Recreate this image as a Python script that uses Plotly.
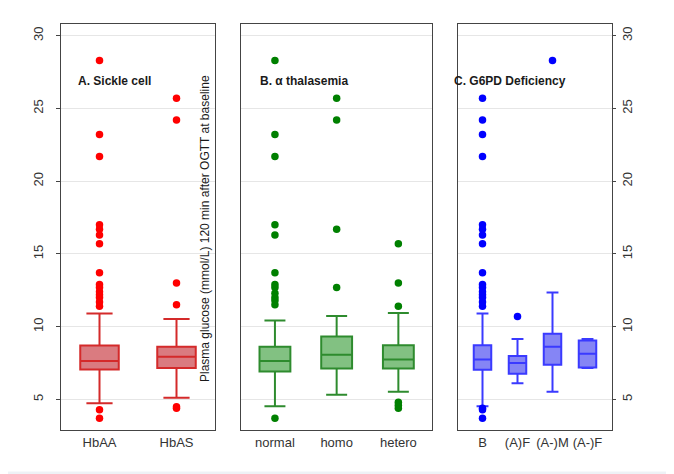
import plotly.graph_objects as go

# ---------------- data ----------------
cats_a = ["HbAA", "HbAS"]
q1_a = [7.06, 7.16]
med_a = [7.64, 7.93]
q3_a = [8.71, 8.62]
lo_a = [4.73, 5.12]
hi_a = [10.91, 10.52]
out_a = [
    [28.3, 23.2, 21.7, 17.0, 16.7, 16.3, 15.7, 13.7, 12.9, 12.7, 12.4, 12.2, 12.0, 11.7, 11.4, 4.3, 3.7],
    [25.7, 24.2, 13.0, 11.5, 4.5, 4.4],
]

cats_b = ["normal", "homo", "hetero"]
q1_b = [6.92, 7.13, 7.13]
med_b = [7.64, 8.07, 7.75]
q3_b = [8.62, 9.33, 8.73]
lo_b = [4.54, 5.32, 5.53]
hi_b = [10.43, 10.73, 10.94]
out_b = [
    [28.3, 23.2, 21.7, 17.0, 16.3, 13.7, 12.9, 12.7, 12.3, 12.0, 11.8, 11.5, 3.7],
    [25.7, 24.2, 16.7, 12.7],
    [15.7, 13.0, 11.4, 4.8, 4.6, 4.4],
]

cats_c = ["B", "(A)F", "(A-)M", "(A-)F"]
q1_c = [7.04, 6.77, 7.38, 7.20]
med_c = [7.75, 7.50, 8.62, 8.14]
q3_c = [8.73, 7.98, 9.51, 9.05]
lo_c = [4.54, 6.12, 5.53, 7.16]
hi_c = [10.91, 9.15, 12.35, 9.15]
out_c = [
    [25.7, 24.2, 23.2, 21.7, 17.0, 16.7, 16.3, 15.7, 13.7, 12.9, 12.7, 12.4, 12.2, 12.0, 11.7, 11.4, 4.4, 4.3, 3.7],
    [10.7],
    [28.3],
    [],
]

y_ticks = [5, 10, 15, 20, 25, 30]
titles = ["A. Sickle cell", "B. \u03b1 thalasemia", "C. G6PD Deficiency"]
y_title = "Plasma glucose (mmol/L) 120 min after OGTT at baseline"

# ---------------- styling ----------------
OFF = 8  # page body margin
W, H = 674 - OFF, 474 - OFF
L, R, T, B = 61 - OFF, 62, 24 - OFF, 44
PW, PH = W - L - R, H - T - B
YR = [2.9, 30.8]


def px(x):
    return (x - OFF - L) / PW


def py(y):
    return 1 - (y - OFF - T) / PH


panels = [
    dict(cats=cats_a, q1=q1_a, med=med_a, q3=q3_a, lo=lo_a, hi=hi_a, out=out_a,
         line="#d42a2a", fill="#da7b80", dot="#ff0000", xs="x", ys="y",
         dom=[0, 154 / PW], xr=[-0.5, 1.5]),
    dict(cats=cats_b, q1=q1_b, med=med_b, q3=q3_b, lo=lo_b, hi=hi_b, out=out_b,
         line="#2e8b2e", fill="#82c182", dot="#008000", xs="x2", ys="y2",
         dom=[180 / PW, 371.3 / PW], xr=[-0.55, 2.55]),
    dict(cats=cats_c, q1=q1_c, med=med_c, q3=q3_c, lo=lo_c, hi=hi_c, out=out_c,
         line="#3a3aff", fill="#8585f5", dot="#0000ff", xs="x3", ys="y3",
         dom=[397 / PW, 1], xr=[-0.7, 3.7]),
]

fig = go.Figure()
for p in panels:
    fig.add_trace(go.Box(
        x=p["cats"], q1=p["q1"], median=p["med"], q3=p["q3"],
        lowerfence=p["lo"], upperfence=p["hi"], boxpoints=False,
        width=0.5, whiskerwidth=0.68, fillcolor=p["fill"],
        line=dict(color=p["line"], width=2), xaxis=p["xs"], yaxis=p["ys"],
        showlegend=False, hoverinfo="skip"))
    ox, oy = [], []
    for c, vals in zip(p["cats"], p["out"]):
        for v in vals:
            ox.append(c)
            oy.append(v)
    fig.add_trace(go.Scatter(
        x=ox, y=oy, mode="markers", marker=dict(color=p["dot"], size=7.5),
        xaxis=p["xs"], yaxis=p["ys"], showlegend=False, hoverinfo="skip"))

axfont = dict(family="Liberation Sans, Arial, sans-serif", size=13, color="#333333")
layout = dict(
    width=W, height=H, margin=dict(l=L, r=R, t=T, b=B),
    paper_bgcolor="#eef2f6", plot_bgcolor="white", showlegend=False,
    font=axfont,
)
for i, p in enumerate(panels):
    sfx = "" if i == 0 else str(i + 1)
    layout["xaxis" + sfx] = dict(
        domain=p["dom"], range=p["xr"], type="category", anchor="y" + sfx,
        showline=True, mirror=True, linecolor="#444444", linewidth=1.3,
        showgrid=False, zeroline=False, ticks="", tickfont=axfont,
        categoryorder="array", categoryarray=p["cats"], fixedrange=True)
    ya = dict(
        range=YR, anchor="x" + sfx, tickvals=y_ticks, showgrid=True,
        gridcolor="#e6e6e6", gridwidth=1, zeroline=False, showline=True,
        mirror=True, linecolor="#444444", linewidth=1.3, tickangle=-90,
        tickfont=axfont, fixedrange=True)
    if i == 0:
        ya.update(side="left", ticks="outside", ticklen=4, tickcolor="#444444",
                  showticklabels=True, ticklabelstandoff=8)
    elif i == 1:
        ya.update(showticklabels=False, ticks="")
    else:
        ya.update(side="right", ticks="outside", ticklen=3, tickcolor="#444444",
                  showticklabels=True, ticklabelstandoff=0)
    layout["yaxis" + sfx] = ya

fig.update_layout(**layout)

fig.add_shape(type="rect", xref="paper", yref="paper", layer="below",
              x0=px(-20), x1=px(671.5), y0=py(471.5), y1=py(-20),
              fillcolor="white", line=dict(width=0))

tx = [75.7, 257.7, 451.7]
for t, x in zip(titles, tx):
    fig.add_annotation(text="<b>" + t + "</b>", xref="paper", yref="paper",
                       x=px(x), y=py(81), xanchor="left",
                       yanchor="middle", showarrow=False,
                       font=dict(family="Liberation Sans, Arial, sans-serif", size=12, color="#1a1a1a"))

fig.add_annotation(text=y_title, xref="paper", yref="paper",
                   x=px(205), y=py(229), textangle=-90,
                   xanchor="center", yanchor="middle", showarrow=False,
                   font=dict(family="Liberation Sans, Arial, sans-serif", size=12, color="#1a1a1a"))

fig.write_html("out.html")
